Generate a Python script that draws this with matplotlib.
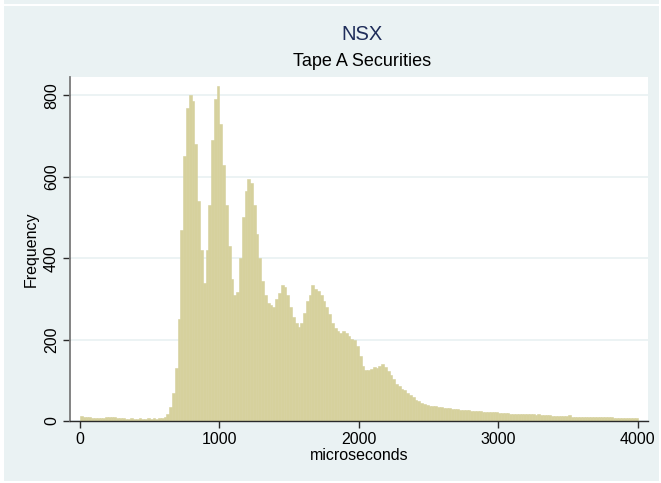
import numpy as np
import matplotlib
matplotlib.use("Agg")
import matplotlib.pyplot as plt
from matplotlib.patches import Rectangle

# ---- data (bin width 20 microseconds, 0..4000) ----
bin_width = 20
bin_starts = list(range(0, 4000, bin_width))
freq = [
    # 0-600
    12, 11, 10, 9, 8, 8, 8, 7, 8, 9, 10, 10, 9, 8, 7, 7, 6, 6, 7, 6,
    6, 7, 6, 6, 7, 6, 7, 6, 7, 8,
    # 600-1000
    10, 18, 35, 70, 130, 250, 470, 650, 770, 800,
    785, 680, 540, 420, 340, 420, 530, 690, 790, 822,
    # 1000-1400
    730, 630, 530, 430, 350, 310, 318, 400, 500, 565,
    595, 585, 530, 460, 400, 345, 310, 290, 285, 280,
    # 1400-1800
    300, 315, 335, 330, 310, 280, 255, 240, 232, 240,
    265, 295, 310, 333, 325, 320, 310, 295, 280, 262,
    # 1800-2200
    240, 228, 222, 215, 222, 215, 210, 202, 198, 185,
    160, 135, 125, 125, 128, 132, 130, 135, 140, 132,
    # 2200-2600
    122, 112, 102, 90, 85, 78, 76, 70, 64, 58,
    52, 48, 44, 41, 40, 38, 37, 36, 35, 34,
    # 2600-3000
    33, 32, 31, 30, 30, 29, 28, 27, 27, 26,
    25, 25, 24, 24, 23, 23, 22, 22, 21, 21,
    # 3000-3400
    20, 20, 19, 19, 18, 18, 18, 17, 17, 17,
    16, 16, 16, 15, 18, 15, 14, 14, 14, 13,
    # 3400-3800
    13, 13, 12, 12, 12, 14, 11, 11, 11, 11,
    10, 10, 10, 10, 10, 9, 9, 9, 9, 9,
    # 3800-4000
    9, 8, 8, 8, 8, 8, 8, 7, 7, 7,
]
x_ticks = [0, 1000, 2000, 3000, 4000]
y_ticks = [0, 200, 400, 600, 800]
title = "NSX"
subtitle = "Tape A Securities"
x_label = "microseconds"
y_label = "Frequency"

# ---- style ----
bg = "#EAF2F3"
bar_color = "#D6D19D"
plt.rcParams["font.family"] = ["Liberation Sans", "DejaVu Sans"]

W, H = 661, 483
fig = plt.figure(figsize=(W / 100, H / 100), dpi=100, facecolor="white")
# background panel (Stata-like) with thin white border lines
fig.patches.append(Rectangle((4 / W, 2 / H), 655 / W, 475 / H, transform=fig.transFigure,
                             facecolor=bg, edgecolor="none", zorder=-5))
fig.patches.append(Rectangle((4 / W, 479 / H), 655 / W, 4 / H, transform=fig.transFigure,
                             facecolor=bg, edgecolor="none", zorder=-5))

ax = fig.add_axes([70 / W, 1 - 421 / H, (648 - 70) / W, (421 - 77) / H])
ax.set_zorder(2)
ax.set_facecolor("white")

ax.bar(bin_starts, freq, width=bin_width, align="edge", color=bar_color,
       edgecolor=bar_color, linewidth=0.4, zorder=2)

ax.set_xlim(-72, 4074)
ax.set_ylim(0, 845)
ax.set_xticks(x_ticks)
ax.set_yticks(y_ticks)
ax.set_yticklabels([str(v) for v in y_ticks], rotation=90, va="center")
ax.grid(axis="y", color=bg, linewidth=1.3, zorder=1)
ax.set_axisbelow(True)

for s in ["top", "right"]:
    ax.spines[s].set_visible(False)
ax.spines["left"].set_color("#7a7a7a")
ax.spines["left"].set_linewidth(1.3)
ax.spines["bottom"].set_color("#2a2a2a")
ax.spines["bottom"].set_linewidth(1.0)
ax.tick_params(axis="both", direction="out", length=5, width=1.0, colors="#2a2a2a",
               labelsize=11.5, labelcolor="black", pad=3)

ax.set_xlabel(x_label, fontsize=11.5, labelpad=1)
ax.set_ylabel(y_label, fontsize=11.5, labelpad=4)

fig.text(0.5 * (70 + 648) / W + 0.005, 1 - 34 / H, title, ha="center", va="center",
         fontsize=14.5, color="#1F2D5A")
fig.text(0.5 * (70 + 648) / W + 0.005, 1 - 61 / H, subtitle, ha="center", va="center",
         fontsize=13, color="black")

fig.savefig("out.png", dpi=100, facecolor="white")
